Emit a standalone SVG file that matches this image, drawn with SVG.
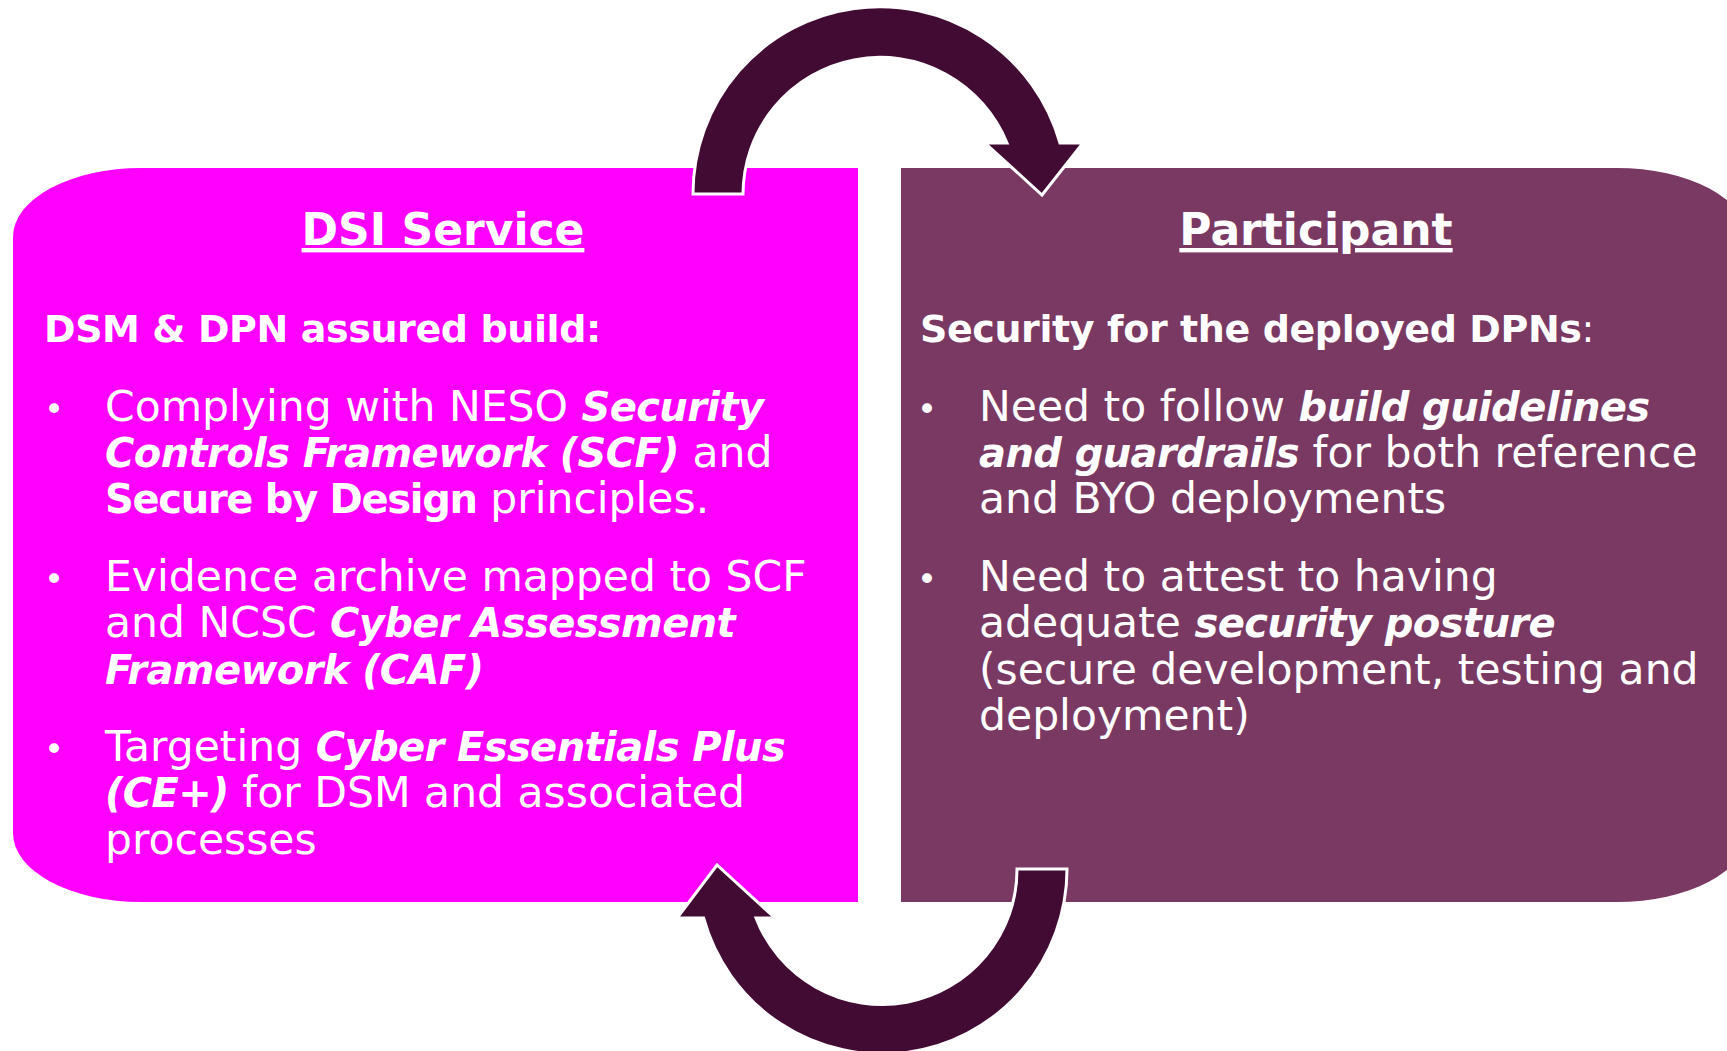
<svg xmlns="http://www.w3.org/2000/svg" width="1727" height="1051" viewBox="0 0 1727 1051">
<style>
text { font-family: "DejaVu Sans", "Liberation Sans", sans-serif; fill: #ffffff; }
.title { font-size: 44px; font-weight: 700; text-decoration: underline; }
.head { font-size: 38px; font-weight: 700; letter-spacing: -0.4px; }
.body { font-size: 42.5px; font-weight: 400; }
.bi { font-size: 40px; font-weight: 700; font-style: italic; letter-spacing: -0.6px; }
.b { font-size: 40px; font-weight: 700; letter-spacing: -1.3px; }
.reg { font-weight: 400; letter-spacing: 0px; }
.bullet { font-size: 34px; }
.arrow { fill: #420B33; stroke: #ffffff; stroke-width: 3; stroke-linejoin: miter; }
</style>
<rect width="1727" height="1051" fill="#ffffff"/>
<g id="dsi-service">
  <path d="M 141,168 H 858 V 902 H 141 A 128 69 0 0 1 13,833 V 237 A 128 69 0 0 1 141,168 Z" fill="#FF00FF"/>
  <text class="title" x="443" y="245" text-anchor="middle">DSI Service</text>
  <text class="head" x="44" y="342">DSM &amp; DPN assured build:</text>
  <text class="bullet" x="44" y="421">•</text>
  <text class="body" x="105" y="421">Complying with NESO <tspan class="bi">Security</tspan></text>
  <text class="body" x="105" y="467"><tspan class="bi">Controls Framework (SCF)</tspan> and</text>
  <text class="body" x="105" y="513"><tspan class="b">Secure by Design</tspan> principles.</text>
  <text class="bullet" x="44" y="591">•</text>
  <text class="body" x="105" y="591">Evidence archive mapped to SCF</text>
  <text class="body" x="105" y="637">and NCSC <tspan class="bi">Cyber Assessment</tspan></text>
  <text class="body" x="105" y="684"><tspan class="bi">Framework (CAF)</tspan></text>
  <text class="bullet" x="44" y="761">•</text>
  <text class="body" x="105" y="761">Targeting <tspan class="bi">Cyber Essentials Plus</tspan></text>
  <text class="body" x="105" y="807"><tspan class="bi">(CE+)</tspan> for DSM and associated</text>
  <text class="body" x="105" y="854">processes</text>
</g>
<g id="participant">
  <path d="M 901,168 H 1617 A 130 69 0 0 1 1747,237 V 833 A 130 69 0 0 1 1617,902 H 901 Z" fill="#7A3962"/>
  <text class="title" x="1316" y="245" text-anchor="middle">Participant</text>
  <text class="head" x="920" y="342">Security for the deployed DPNs<tspan class="reg">:</tspan></text>
  <text class="bullet" x="917" y="421">•</text>
  <text class="body" x="979" y="421">Need to follow <tspan class="bi">build guidelines</tspan></text>
  <text class="body" x="979" y="467"><tspan class="bi">and guardrails</tspan> for both reference</text>
  <text class="body" x="979" y="513">and BYO deployments</text>
  <text class="bullet" x="917" y="591">•</text>
  <text class="body" x="979" y="591">Need to attest to having</text>
  <text class="body" x="979" y="637">adequate <tspan class="bi">security posture</tspan></text>
  <text class="body" x="979" y="684">(secure development, testing and</text>
  <text class="body" x="979" y="730">deployment)</text>
</g>
<g id="connectors">
  <path id="arrow-top" class="arrow" d="M 693,194 A 187 187 0 0 1 1060,143 L 1083,143 L 1042,195 L 985,143 L 1007,143 A 137 137 0 0 0 743,194 Z"/>
  <path id="arrow-bottom" class="arrow" d="M 1067,869 A 185 185 0 0 1 703.6,918 L 677,918 L 717,865 L 775,918 L 756,918 A 135 135 0 0 0 1017,869 Z"/>
</g>
</svg>
